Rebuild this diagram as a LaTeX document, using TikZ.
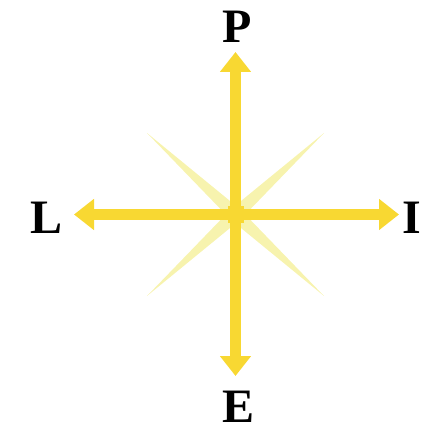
\documentclass[tikz,border=0pt]{standalone}
\usepackage{fontspec}
\setmainfont{Liberation Serif}
\usepackage{tikz}
\usetikzlibrary{
    arrows.meta,
    calc
}
\definecolor{axisyellow}{HTML}{F8D832}
\definecolor{rayyellow}{HTML}{F7F3AE}

\begin{document}
\begin{tikzpicture}[
    x=1pt, y=-1pt,
    axis/.style={
        -{Triangle[length=20pt,width=30pt]},
        draw=axisyellow,
        line width=11pt
    },
    ray/.style={
        fill=rayyellow
    },
    letter/.style={
        inner sep=0pt,
        font=\fontsize{48}{48}\selectfont\bfseries
    }
]
\useasboundingbox (0,0) rectangle (433,430);

\coordinate (o) at (235.5,214.5);

% Strahlen
\coordinate (r1) at (147,133);
\coordinate (r2) at (324,133);
\coordinate (r3) at (147,296);
\coordinate (r4) at (324,296);
\foreach \r in {r1,r2,r3,r4}{
    \fill[ray] ($(o)!7pt!90:(\r)$) -- (\r) -- ($(o)!7pt!-90:(\r)$) -- cycle;
}

% Achsen
\coordinate (top) at (235.5,52);
\coordinate (bottom) at (235.5,376);
\coordinate (left) at (74,214.5);
\coordinate (right) at (399,214.5);
\draw[axis] (o) -- (top);
\draw[axis] (o) -- (bottom);
\draw[axis] (o) -- (left);
\draw[axis] (o) -- (right);
\fill[axisyellow] ($(o)+(-8,-8)$) rectangle ($(o)+(8,8)$);

% Beschriftung
\node[letter] (P) at (237,26.5) {P};
\node[letter] (L) at (47,218) {L};
\node[letter] (I) at (411.5,217.5) {I};
\node[letter] (E) at (239,407) {E};

\end{tikzpicture}
\end{document}
